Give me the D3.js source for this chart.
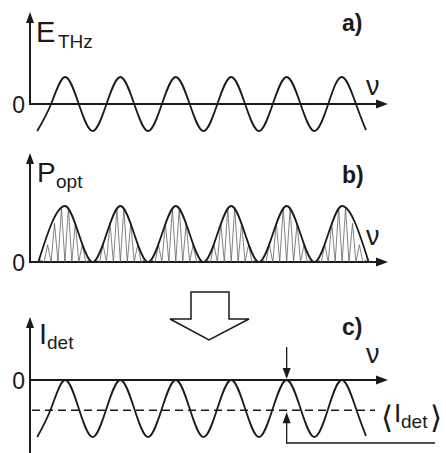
<!DOCTYPE html>
<html><head><meta charset="utf-8">
<script src="https://cdn.jsdelivr.net/npm/d3@7"></script>
<style>
html,body{margin:0;padding:0;background:#fff;}
svg{display:block;}
text{font-family:"Liberation Sans",Arial,sans-serif;fill:#1a1a1a;}
</style></head>
<body>
<svg id="chart" width="446" height="453"></svg>
<script>
// ---- data (frequency axis ν in units of the THz period) ----
const eNu  = [0.13,0.38,0.63,0.88,1.13,1.38,1.63,1.88,2.13,2.38,2.63,2.88,3.13,3.38,3.63,3.88,4.13,4.38,4.63,4.88,5.13,5.38,5.63,5.88,6.06];
const eVal = [-1,0,1,0,-1,0,1,0,-1,0,1,0,-1,0,1,0,-1,0,1,0,-1,0,1,0,-0.97];
const pNu  = [0.15,0.63,1.13,1.63,2.13,2.63,3.13,3.63,4.13,4.63,5.13,5.63,6.11];
const pVal = [0,1,0,1,0,1,0,1,0,1,0,1,0];
const pPeaks = [0.63,1.63,2.63,3.63,4.63,5.63];
const carrierPerBump = 8;
const iNu  = eNu;
const iVal = [-1,-0.5,0,-0.5,-1,-0.5,0,-0.5,-1,-0.5,0,-0.5,-1,-0.5,0,-0.5,-1,-0.5,0,-0.5,-1,-0.5,0,-0.5,-0.98];
const iMean = -0.53;
const markNu = 4.63;          // position of the marked maximum in panel c
const panelLabels = ["a)","b)","c)"];
const zeroLabel = "0";

const svg = d3.select("#chart");
const ink = "#1a1a1a";

const x = d3.scaleLinear().domain([0, 6.44]).range([30, 387]);
const yA = d3.scaleLinear().domain([-1, 1]).range([131, 77]);
const yB = d3.scaleLinear().domain([0, 1]).range([262, 206]);
const yC = d3.scaleLinear().domain([-1, 0]).range([437, 380]);

function arrowHead(g, tx, ty, dir, len, w){
  let pts;
  if(dir==='up') pts=[[tx,ty],[tx-w/2,ty+len],[tx+w/2,ty+len]];
  else if(dir==='down') pts=[[tx,ty],[tx-w/2,ty-len],[tx+w/2,ty-len]];
  else pts=[[tx,ty],[tx-len,ty-w/2],[tx-len,ty+w/2]];
  g.append("path").attr("d", d3.line()(pts)+"Z").attr("fill", ink).attr("stroke","none");
}

function axes(y0, yTop, yBottom){
  const g = svg.append("g");
  g.append("line").attr("x1",x(0)).attr("x2",x(6.44)-9).attr("y1",y0).attr("y2",y0)
    .attr("stroke",ink).attr("stroke-width",2);
  arrowHead(g, x(6.44)+1, y0, 'right', 12, 9);
  g.append("line").attr("x1",x(0)).attr("x2",x(0)).attr("y1",yBottom).attr("y2",yTop+8)
    .attr("stroke",ink).attr("stroke-width",2);
  arrowHead(g, x(0), yTop, 'up', 11, 8);
  return g;
}

// ---- panel a ----
axes(yA(0), 12, yA(0)+1);
svg.append("path")
  .attr("d", d3.line().x((d,i)=>x(eNu[i])).y((d,i)=>yA(eVal[i])).curve(d3.curveNatural)(eNu))
  .attr("fill","none").attr("stroke",ink).attr("stroke-width",1.8);

// ---- panel b ----
axes(yB(0), 153, yB(0)+1);
const zig = [];
pPeaks.forEach(p=>{
  const n = carrierPerBump*2;
  for(let j=0;j<=n;j++){
    const pos = p - 0.5 + j/n;
    const env = (1+Math.cos(2*Math.PI*(pos-p)))/2;
    zig.push([x(pos), j%2 ? yB(env) : yB(0)]);
  }
});
svg.append("path").attr("d", d3.line()(zig))
  .attr("fill","none").attr("stroke","#5a5a5a").attr("stroke-width",0.75);
svg.append("path")
  .attr("d", d3.line().x((d,i)=>x(pNu[i])).y((d,i)=>yB(pVal[i])).curve(d3.curveMonotoneX)(pNu))
  .attr("fill","none").attr("stroke",ink).attr("stroke-width",1.8);

// ---- panel c ----
axes(yC(0), 317, 453);
svg.append("path")
  .attr("d", d3.line().x((d,i)=>x(iNu[i])).y((d,i)=>yC(iVal[i])).curve(d3.curveNatural)(iNu))
  .attr("fill","none").attr("stroke",ink).attr("stroke-width",1.8);
svg.append("line").attr("x1",x(0)+2).attr("x2",375).attr("y1",yC(iMean)).attr("y2",yC(iMean))
  .attr("stroke",ink).attr("stroke-width",1.5).attr("stroke-dasharray","8,5");
const mx = x(markNu);
svg.append("line").attr("x1",mx).attr("x2",mx).attr("y1",347).attr("y2",yC(0)-8)
  .attr("stroke",ink).attr("stroke-width",1.3);
arrowHead(svg, mx, yC(0)-1, 'down', 11, 8);
svg.append("path").attr("d", d3.line()([[435,443],[mx,443],[mx,yC(iMean)+10]]))
  .attr("fill","none").attr("stroke",ink).attr("stroke-width",1.3);
arrowHead(svg, mx, yC(iMean)+2, 'up', 11, 8);

// big hollow arrow between b and c
svg.append("path").attr("d", d3.line()([[191,292],[229,292],[229,319],[249,319],[209,340],[170,319],[191,319]])+"Z")
  .attr("fill","#fff").attr("stroke",ink).attr("stroke-width",1.5);

// ---- texts ----
const T = (t,xx,yy,size,opt={})=>{
  const e = svg.append("text").attr("x",xx).attr("y",yy).attr("font-size",size).text(t);
  if(opt.bold) e.attr("font-weight","bold");
  if(opt.anchor) e.attr("text-anchor",opt.anchor);
  if(opt.family) e.style("font-family",opt.family);
  return e;
};
[yA(0), yB(0), yC(0)].forEach(y0=>T(zeroLabel, 25, y0+8.5, 23, {anchor:"end"}));
T("E", 36, 42, 29); T("THz", 58, 48, 19);
T("P", 37, 182, 28); T("opt", 56, 188, 19);
T("I", 39, 344, 29); T("det", 47, 349, 19);
T("\u03BD", 366, 95, 27); T("\u03BD", 366, 245, 27); T("\u03BD", 366, 363, 27);
T(panelLabels[0], 342, 31, 23, {bold:true});
T(panelLabels[1], 342, 183, 23, {bold:true});
T(panelLabels[2], 342, 335, 23, {bold:true});
T("\u27E8", 381, 428, 31, {family:"DejaVu Sans"});
T("I", 394, 422, 26); T("det", 401, 428, 19);
T("\u27E9", 430, 428, 31, {family:"DejaVu Sans"});
</script>
</body></html>
